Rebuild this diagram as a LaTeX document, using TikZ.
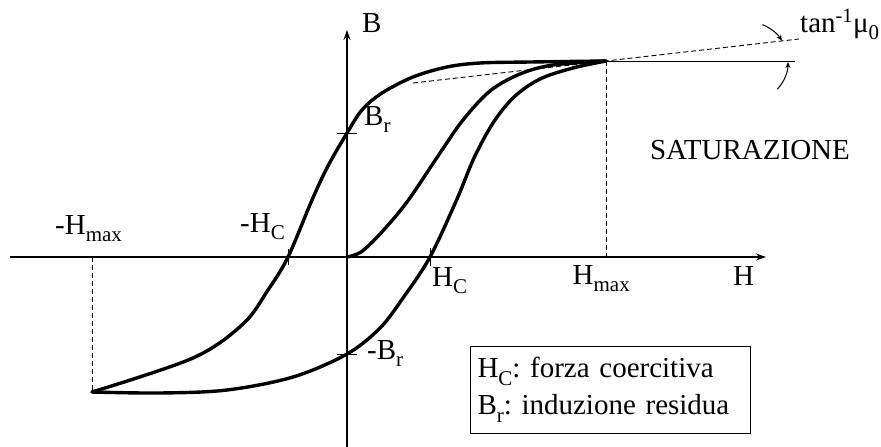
\documentclass[tikz,border=0pt]{standalone}
\usepackage{fontspec}
\setmainfont{Liberation Serif}
\usetikzlibrary{arrows.meta, calc}
\frenchspacing
\newcommand{\lowsub}[1]{\raisebox{-0.27em}{\fontsize{21}{21}\selectfont #1}}
\tikzset{
  every picture/.style={x=1pt, y=-1pt, font=\fontsize{29}{37}\selectfont},
  axis/.style={line width=1.1pt, -{Stealth[length=10pt, width=7pt]}},
  curve/.style={line width=3.4pt, line join=round, line cap=round},
  guide/.style={line width=0.9pt, dash pattern=on 5pt off 3pt},
  tick/.style={line width=1pt},
  lbl/.style={inner sep=0pt, anchor=base west},
  legend/.style={draw, line width=1pt, align=left, inner sep=7pt, text width=266pt, minimum height=87pt},
}
\begin{document}
\begin{tikzpicture}
  \useasboundingbox (0,0) rectangle (881,447);
  % reference points of the loop
  \coordinate (O) at (347,257);
  \coordinate (Hmax) at (606,61);
  \coordinate (mHmax) at (92,392);
  \coordinate (Br) at (347,133);
  \coordinate (mBr) at (347,354);
  \coordinate (Hc) at (430,257);
  \coordinate (mHc) at (288,257);
  \coordinate (tl) at (413,83);
  \coordinate (tr) at ($(Hmax)!-1!(tl)$);
  \coordinate (hr) at (795,61);
  \coordinate (ac) at (748,62);
  % axes
  \coordinate (Hleft) at (10,257);
  \coordinate (Hright) at (766,257);
  \coordinate (Bbot) at (347,447);
  \coordinate (Btop) at (347,30);
  \draw[axis] (Hleft) -- (Hright);
  \draw[axis] (Bbot) -- (Btop);
  % guides
  \draw[guide] (Hmax) -- (Hmax |- O);
  \draw[guide] (mHmax |- O) -- (mHmax);
  \draw[guide] (tl) -- (tr);
  \draw[line width=1pt] (Hmax) -- (hr);
  \draw[line width=1pt, -{Stealth[length=6pt, width=5pt]}] ([shift={(-69:40)}]ac) arc[start angle=-69, end angle=-32, radius=40];
  \draw[line width=1pt, -{Stealth[length=6pt, width=5pt]}] ([shift={(43:40)}]ac) arc[start angle=43, end angle=0, radius=40];
  % ticks
  \draw[tick] ([xshift=-10]Br) -- ([xshift=10]Br);
  \draw[tick] ([xshift=-10]mBr) -- ([xshift=10]mBr);
  \draw[tick] ([yshift=-8]mHc) -- ([yshift=8]mHc);
  \draw[tick] ([yshift=-9]Hc) -- ([yshift=9]Hc);
  % loop
  \draw[curve] plot[smooth, tension=0.55] coordinates {(Hmax) (530,62) (480,63) (447,67) (413,77) (382,93) (362,110) (Br) (328,166) (312,200) (mHc) (268,290) (243,324) (193,358) (mHmax)};
  \draw[curve] plot[smooth, tension=0.55] coordinates {(mHmax) (160,393) (227,390) (293,377) (mBr) (380,328) (403,298) (Hc) (457,199) (474,158) (493,123) (514,97) (540,79) (573,68) (Hmax)};
  \draw[curve] plot[smooth, tension=0.55] coordinates {(O) (361,252) (380,234) (407,202) (440,153) (463,120) (490,91) (520,74) (553,65) (Hmax)};
  % labels
  \node[lbl] (lB) at (362,32) {B};
  \node[lbl] (lH) at (733,285) {H};
  \node[lbl] (lBr) at (364,125) {B\lowsub{r}};
  \node[lbl] (lmBr) at (367,359) {-B\lowsub{r}};
  \node[lbl] (lHc) at (432,286) {H\lowsub{C}};
  \node[lbl] (lmHc) at (240,232) {-H\lowsub{C}};
  \node[lbl, anchor=base east] (lHmax) at (630,284) {H\lowsub{max}};
  \node[lbl] (lmHmax) at (55,234) {-H\lowsub{max}};
  \node[lbl, anchor=base] (lsat) at (750,159) {SATURAZIONE};
  \node[lbl] (ltan) at (800,32) {tan\textsuperscript{-1}μ\lowsub{0}};
  \node[legend, anchor=north west] (key) at (470,346) {H\lowsub{C}: forza coercitiva\\B\lowsub{r}: induzione residua};
\end{tikzpicture}
\end{document}
